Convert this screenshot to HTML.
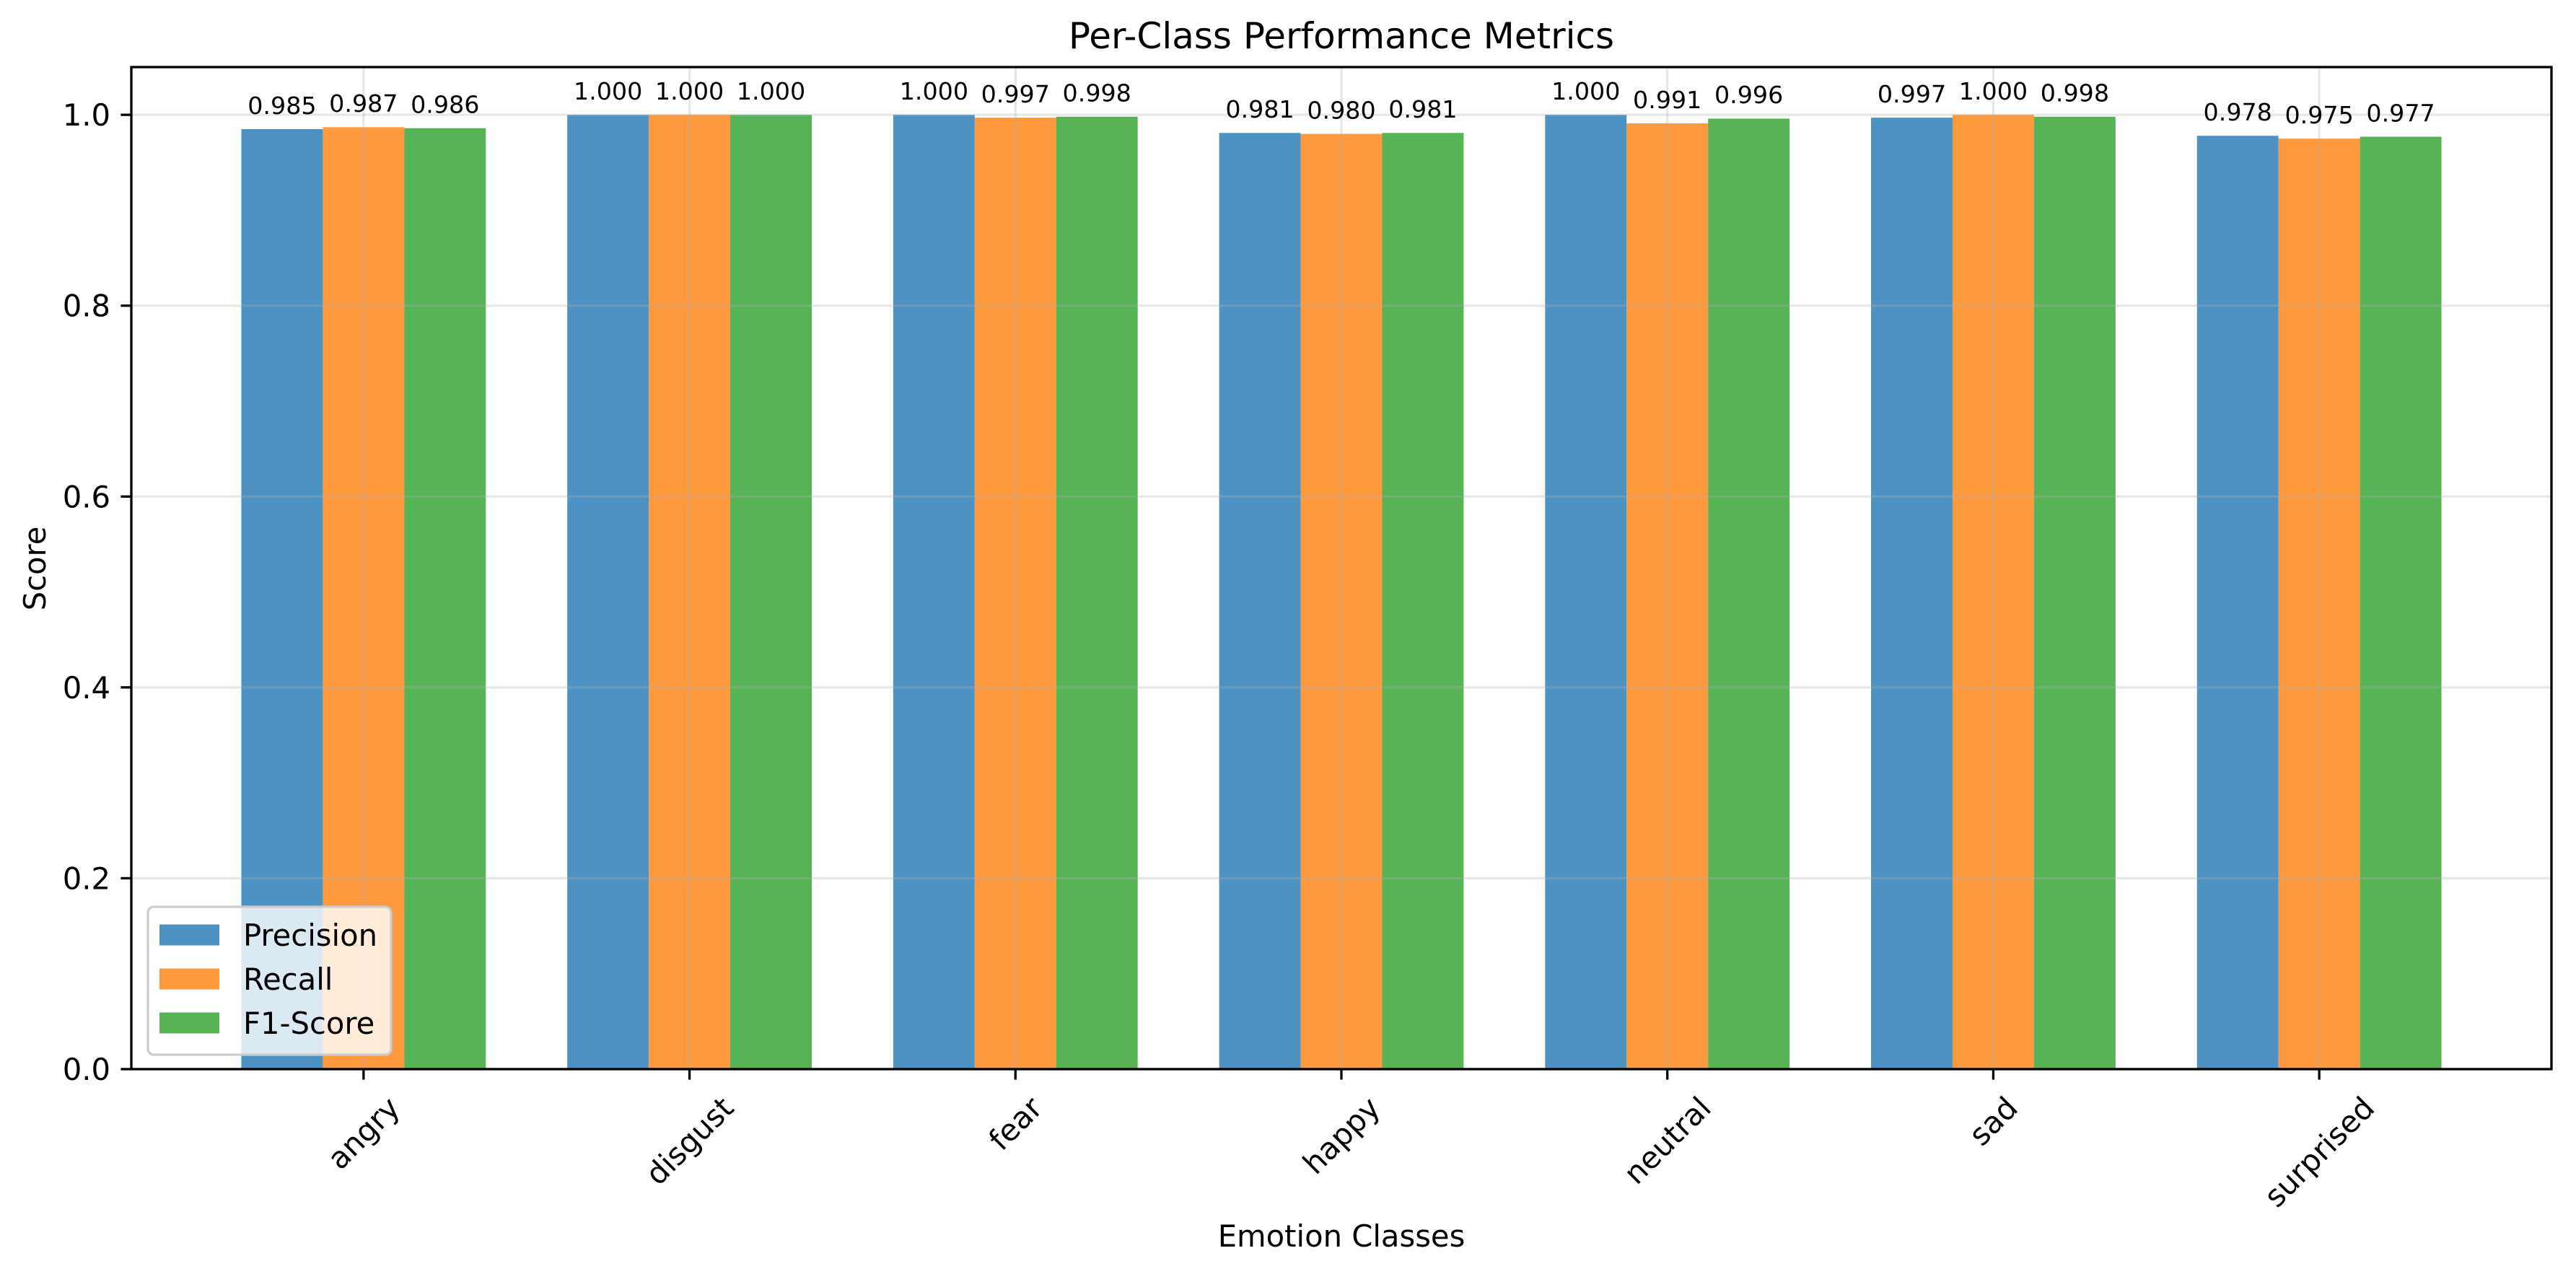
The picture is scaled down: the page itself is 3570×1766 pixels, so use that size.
<!DOCTYPE html>
<html><head><meta charset="utf-8"><style>
html,body{margin:0;padding:0;background:#fff;}
svg{display:block;font-family:"DejaVu Sans","Liberation Sans",sans-serif;}
</style></head><body>
<svg id="chart" width="3570" height="1766" viewBox="0 0 3570 1766" xmlns="http://www.w3.org/2000/svg">
<rect x="0" y="0" width="3570" height="1766" fill="#fff"/>
<g id="grid"></g>
<g id="bars"></g>
<g id="vals"></g>
<g id="axes"></g>
<text x="1859" y="67" font-size="50" text-anchor="middle">Per-Class Performance Metrics</text>
<text x="1859" y="1728" font-size="41.7" text-anchor="middle">Emotion Classes</text>
<text transform="translate(63,788) rotate(-90)" font-size="41.7" text-anchor="middle">Score</text>
<g id="legend"></g>
</svg>
<script>
const categories = ["angry","disgust","fear","happy","neutral","sad","surprised"];
const seriesNames = ["Precision","Recall","F1-Score"];
const precision = [0.985,1.000,1.000,0.981,1.000,0.997,0.978];
const recall = [0.987,1.000,0.997,0.980,0.991,1.000,0.975];
const f1 = [0.986,1.000,0.998,0.981,0.996,0.998,0.977];
const yTicks = [0.0,0.2,0.4,0.6,0.8,1.0];
const yTickLabels = ["0.0","0.2","0.4","0.6","0.8","1.0"];

const NS="http://www.w3.org/2000/svg";
const L=182,R=3536,T=93,B=1482;
const xMin=-0.7125,xMax=6.7125,yMin=0,yMax=1.05;
const colors=["#1f77b4","#ff7f0e","#2ca02c"];
const series=[precision,recall,f1];
function xs(v){return L+(v-xMin)/(xMax-xMin)*(R-L);}
function ys(v){return B-(v-yMin)/(yMax-yMin)*(B-T);}
function mk(tag,attrs,parent){const e=document.createElementNS(NS,tag);for(const k in attrs)e.setAttribute(k,attrs[k]);parent.appendChild(e);return e;}
const grid=document.getElementById('grid'),bars=document.getElementById('bars'),vals=document.getElementById('vals'),axes=document.getElementById('axes'),legend=document.getElementById('legend');
const bw=0.25;
// bars
series.forEach((s,si)=>{
  s.forEach((v,i)=>{
    const c=i+(si-1)*bw;
    const x0=xs(c-bw/2),x1=xs(c+bw/2);
    const r=mk('rect',{x:x0,y:ys(v),width:x1-x0,height:ys(0)-ys(v),fill:colors[si],'fill-opacity':0.8},bars);
    
    
    const t=mk('text',{x:xs(c),y:ys(v+0.01)-8,'font-size':33.3,'text-anchor':'middle'},vals);
    t.textContent=v.toFixed(3);
    
    
  });
});
// grid
yTicks.forEach(v=>{const g=mk('line',{x1:L,x2:R,y1:ys(v),y2:ys(v),stroke:'#b0b0b0','stroke-opacity':0.3,'stroke-width':3.3},grid);
  
  });
categories.forEach((c,i)=>{const g=mk('line',{x1:xs(i),x2:xs(i),y1:T,y2:B,stroke:'#b0b0b0','stroke-opacity':0.3,'stroke-width':3.3},grid);
  
  });
grid.parentNode.insertBefore(bars,grid); // bars below grid
grid.parentNode.insertBefore(grid,vals);
// axes frame
const fr=mk('rect',{x:L,y:T,width:R-L,height:B-T,fill:'none',stroke:'#000','stroke-width':3.3},axes);


yTicks.forEach((v,i)=>{
  const tk=mk('line',{x1:L-14.6,x2:L,y1:ys(v),y2:ys(v),stroke:'#000','stroke-width':3.3},axes);
  
  
  const t=mk('text',{x:L-29,y:ys(v)+15,'font-size':41.7,'text-anchor':'end'},axes);
  t.textContent=yTickLabels[i];
  
  
});
categories.forEach((c,i)=>{
  const tk=mk('line',{x1:xs(i),x2:xs(i),y1:B,y2:B+14.6,stroke:'#000','stroke-width':3.3},axes);
  
  
  const t=mk('text',{x:0,y:0,'font-size':41.7,'text-anchor':'middle','dominant-baseline':'central'},axes);
  t.textContent=c;
  
  
  const w=t.getComputedTextLength();
  const h=(w+48)*Math.SQRT1_2;
  t.setAttribute('transform','translate('+xs(i)+','+(B+29.2+h/2)+') rotate(-45)');
});
// legend
const lg=mk('rect',{x:205,y:1257,width:337,height:205,rx:8,fill:'#fff','fill-opacity':0.8,stroke:'#cccccc','stroke-width':3.3},legend);


seriesNames.forEach((n,si)=>{
  const cy=1296+si*61;
  const p=mk('rect',{x:221,y:cy-14.5,width:83,height:29,fill:colors[si],'fill-opacity':0.8},legend);
  
  
  const t=mk('text',{x:337,y:cy+15,'font-size':41.7},legend);
  t.textContent=n;
  
  
});
</script>
</body></html>
